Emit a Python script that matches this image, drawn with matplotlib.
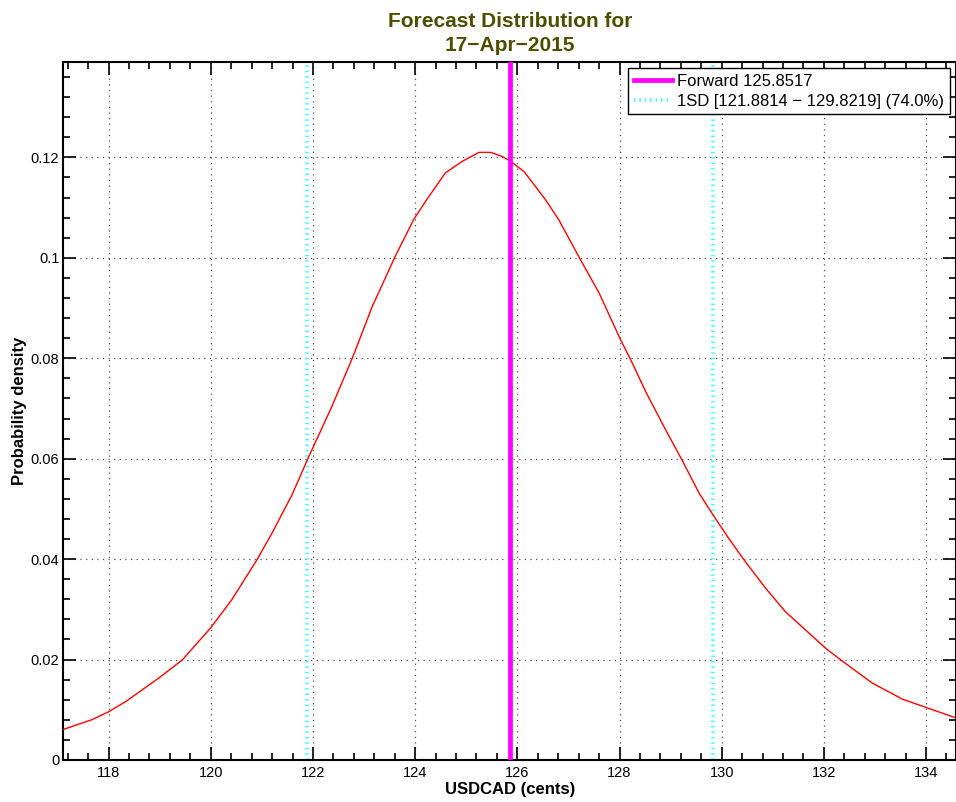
import matplotlib as mpl
import matplotlib.pyplot as plt
from matplotlib.ticker import MultipleLocator, FuncFormatter

mpl.rcParams['font.family'] = ['Liberation Sans', 'DejaVu Sans']

# density curve
price = [117.09, 117.67, 118.00, 118.33, 118.98, 119.44, 119.99, 120.41, 120.90,
         121.20, 121.59, 121.90, 122.37, 122.77, 123.16, 123.61, 123.97, 124.20,
         124.59, 124.92, 125.25, 125.48, 125.70, 125.87, 126.13, 126.55, 126.81,
         127.20, 127.60, 128.02, 128.22, 128.51, 128.90, 129.22, 129.56, 129.85,
         130.14, 130.44, 130.86, 131.25, 131.64, 132.04, 132.36, 132.95, 133.54,
         133.99, 134.55]
density = [0.0060, 0.0080, 0.0096, 0.0116, 0.0163, 0.0199, 0.0262, 0.0319, 0.0398,
           0.0452, 0.0528, 0.0600, 0.0704, 0.0800, 0.0903, 0.1003, 0.1076, 0.1112,
           0.1169, 0.1192, 0.1210, 0.1210, 0.1202, 0.1192, 0.1172, 0.1116, 0.1076,
           0.1003, 0.0930, 0.0837, 0.0797, 0.0734, 0.0658, 0.0598, 0.0531, 0.0485,
           0.0441, 0.0398, 0.0342, 0.0295, 0.0259, 0.0222, 0.0197, 0.0153, 0.0121,
           0.0105, 0.0085]

forward = 125.8517
sd_low = 121.8814
sd_high = 129.8219
sd_prob = 74.0
date_str = '17\u2212Apr\u22122015'

fig = plt.figure(figsize=(9.56, 8.02), dpi=100)
ax = fig.add_axes([0.0664, 0.0524, 0.9336, 0.8703])

ax.plot(price, density, color='red', lw=1.0, zorder=3)
ax.axvline(forward, color='#ff00ff', lw=3.4, zorder=4,
           label='Forward %.4f' % forward)
# 1SD band edges, light dotted cyan
ax.axvline(sd_low, color='#40ffff', lw=2.6, linestyle=(0, (0.4, 1.1)), zorder=2,
           label='1SD [%.4f \u2212 %.4f] (%.1f%%)' % (sd_low, sd_high, sd_prob))
ax.axvline(sd_high, color='#40ffff', lw=2.6, linestyle=(0, (0.4, 1.1)), zorder=2)

ax.set_xlim(117.117, 134.586)
ax.set_ylim(0, 0.139)

# matlab style ticks
ax.xaxis.set_major_locator(MultipleLocator(2))
ax.xaxis.set_minor_locator(MultipleLocator(0.4))
ax.yaxis.set_major_locator(MultipleLocator(0.02))
ax.yaxis.set_minor_locator(MultipleLocator(0.004))
ax.yaxis.set_major_formatter(FuncFormatter(lambda v, p: '%g' % round(v, 4)))
ax.tick_params(which='both', direction='in', top=True, right=True, width=1.2,
               labelsize=10.5)
ax.tick_params(axis='x', which='major', length=9.5, pad=4)
ax.tick_params(axis='y', which='major', length=9.5, pad=3)
ax.tick_params(which='minor', length=5)
for s in ax.spines.values():
    s.set_linewidth(1.5)

ax.grid(True, which='major', linestyle=(0, (1, 3.5)), color='0.3', lw=0.9)
ax.set_axisbelow(True)

ax.set_title('Forecast Distribution for\n' + date_str, fontsize=15,
             fontweight='bold', color=(0.3, 0.3, 0.0), pad=8, linespacing=1.35)
ax.set_xlabel('USDCAD (cents)', fontsize=12, fontweight='bold', labelpad=2)
ax.set_ylabel('Probability density', fontsize=12, fontweight='bold', labelpad=3)

leg = ax.legend(loc='upper right', fontsize=12, fancybox=False, framealpha=1,
                edgecolor='black', borderaxespad=0.35, handlelength=2.3,
                handletextpad=0.3, borderpad=0.35, labelspacing=0.3)
leg.get_frame().set_linewidth(1.0)

plt.savefig('out.png', dpi=100)
